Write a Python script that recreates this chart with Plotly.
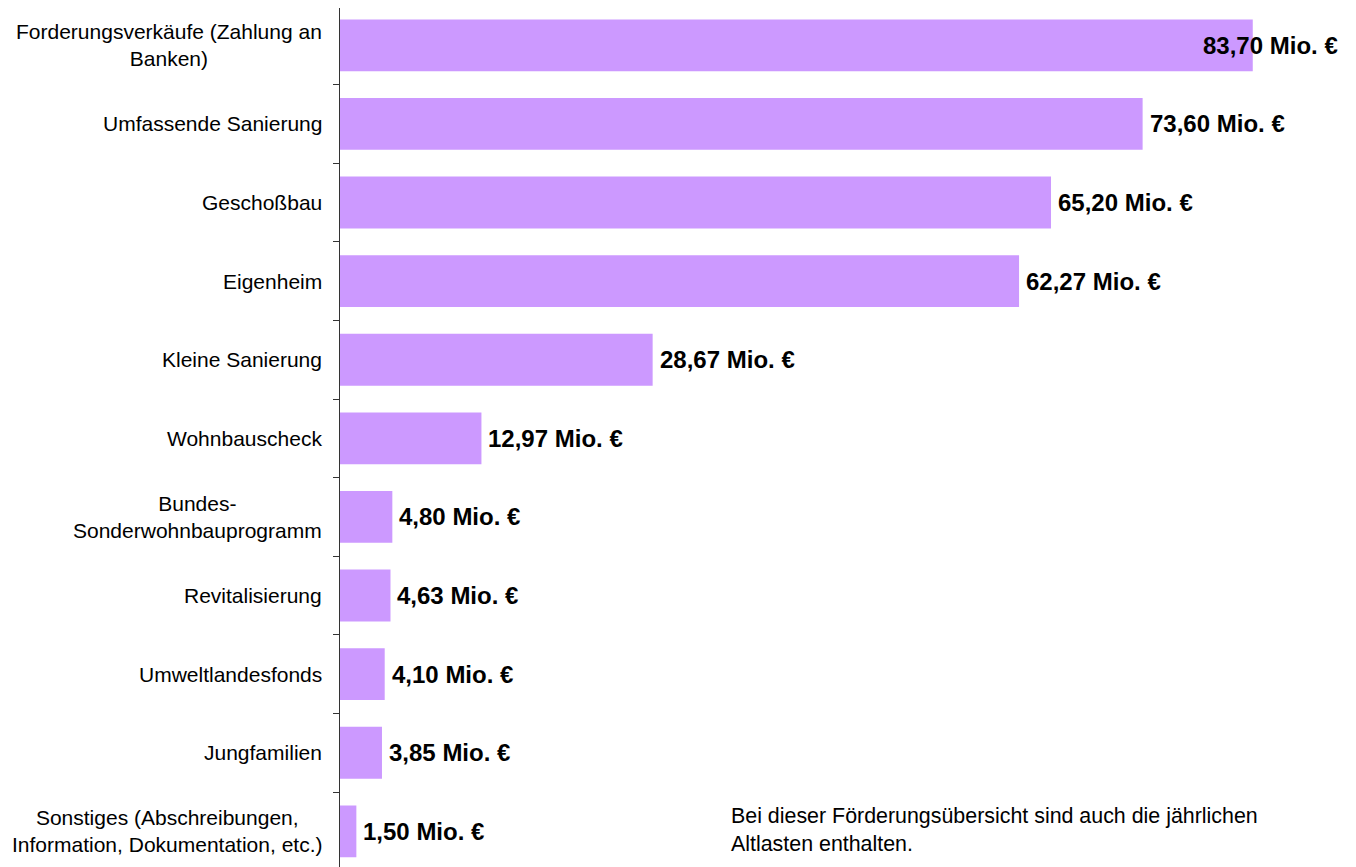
import plotly.graph_objects as go

## Daten
kategorien = [
    "Forderungsverkäufe (Zahlung an<br>Banken)",
    "Umfassende Sanierung",
    "Geschoßbau",
    "Eigenheim",
    "Kleine Sanierung",
    "Wohnbauscheck",
    "Bundes-<br>Sonderwohnbauprogramm",
    "Revitalisierung",
    "Umweltlandesfonds",
    "Jungfamilien",
    "Sonstiges (Abschreibungen,<br>Information, Dokumentation, etc.)",
]
werte = [83.70, 73.60, 65.20, 62.27, 28.67, 12.97, 4.80, 4.63, 4.10, 3.85, 1.50]
beschriftung = ["%.2f Mio. €" % w for w in werte]
beschriftung = [b.replace(".", ",", 1) for b in beschriftung]
hinweis = "Bei dieser Förderungsübersicht sind auch die jährlichen<br>Altlasten enthalten."

FONT = "Liberation Sans, Arial, sans-serif"
x_max = 91.7
kat_px = 78.6  # Höhe je Kategorie in Pixel

fig = go.Figure()
fig.add_trace(go.Bar(y=kategorien, x=werte, orientation="h",
                     marker=dict(color="#CC99FF", line=dict(width=0)),
                     hoverinfo="x+y"))

## Kategorienbeschriftung (zentriert, mehrzeilig)
for k in kategorien:
    fig.add_annotation(x=0, xref="paper", y=k, yref="y", text=k,
                       xanchor="right", yanchor="middle", align="center",
                       xshift=-16, showarrow=False,
                       font=dict(family=FONT, size=21, color="#000000"))

## Werte
for k, w, b in zip(kategorien, werte, beschriftung):
    if w + 14 > x_max:
        fig.add_annotation(x=x_max, y=k, text="<b>" + b + "</b>", xanchor="right",
                           showarrow=False, xshift=0,
                           font=dict(family=FONT, size=24, color="#000000"))
    else:
        fig.add_annotation(x=w, y=k, text="<b>" + b + "</b>", xanchor="left",
                           showarrow=False, xshift=5,
                           font=dict(family=FONT, size=24, color="#000000"))

fig.add_annotation(x=0.389, xref="paper", y=0.043, yref="paper", text=hinweis,
                   xanchor="left", yanchor="middle", align="left", showarrow=False,
                   font=dict(family=FONT, size=21.4, color="#000000"))

fig.update_layout(
    width=1348, height=859,
    margin=dict(l=332, r=16, t=0, b=0),
    plot_bgcolor="white", paper_bgcolor="white",
    bargap=0.34, showlegend=False,
    font=dict(family=FONT, size=21, color="#000000"),
    xaxis=dict(range=[0, x_max], visible=False, fixedrange=True),
    yaxis=dict(type="category", categoryarray=kategorien,
               range=[-0.475 + 859 / kat_px, -0.475],
               showticklabels=False, showline=True, linecolor="#333333",
               linewidth=1.3, ticks="outside", tickson="boundaries",
               ticklen=6, tickcolor="#333333", showgrid=False,
               zeroline=False, fixedrange=True),
)

fig.write_html("out.html")
